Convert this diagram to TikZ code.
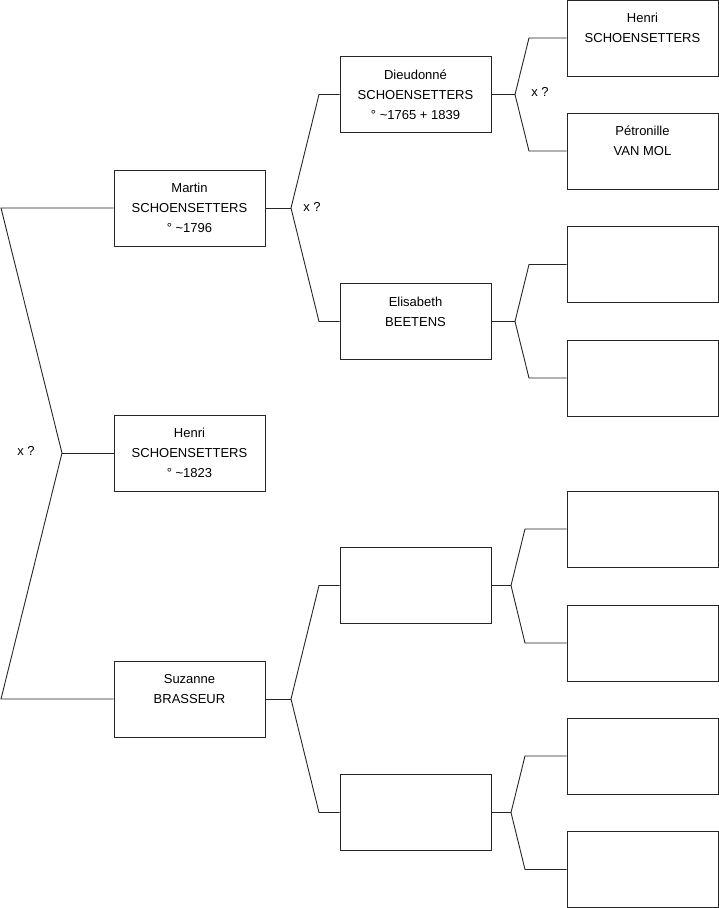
\documentclass[tikz,border=0pt]{standalone}
\usepackage{fontspec}
\setmainfont{Liberation Sans}
\usepackage{tikz}

\begin{document}
\begin{tikzpicture}[x=1pt, y=-1pt, line width=0.9pt,
    box/.style={draw=black!85, minimum width=151pt, minimum height=76pt,
                inner sep=0pt, align=center,
                font=\fontsize{13}{20}\selectfont},
    link/.style={draw=black!85},
    marriage/.style={font=\fontsize{13}{16}\selectfont}]
  \useasboundingbox (0,0) rectangle (719,908);

  % generation 1 and 2
  \node[box] (martin) at (189.5,208) {Martin\\SCHOENSETTERS\\° \textasciitilde1796};
  \node[box] (henri) at (189.5,453) {Henri\\SCHOENSETTERS\\° \textasciitilde1823};
  \node[box] (suzanne) at (189.5,699) {Suzanne\\BRASSEUR\\\mbox{}};

  % generation 3
  \node[box] (dieudonne) at (415.5,94.5) {Dieudonné\\SCHOENSETTERS\\° \textasciitilde1765 + 1839};
  \node[box] (elisabeth) at (415.5,321.5) {Elisabeth\\BEETENS\\\mbox{}};
  \node[box] (gp3) at (415.5,585.5) {};
  \node[box] (gp4) at (415.5,812.5) {};

  % generation 4
  \node[box] (henriS) at (642.5,38) {Henri\\SCHOENSETTERS\\\mbox{}};
  \node[box] (petronille) at (642.5,151) {Pétronille\\VAN MOL\\\mbox{}};
  \node[box] (ggp3) at (642.5,264.5) {};
  \node[box] (ggp4) at (642.5,378) {};
  \node[box] (ggp5) at (642.5,529) {};
  \node[box] (ggp6) at (642.5,643) {};
  \node[box] (ggp7) at (642.5,756) {};
  \node[box] (ggp8) at (642.5,869.5) {};

  % forks
  \coordinate (f1) at (62,453);
  \coordinate (f1a) at (1,208);
  \coordinate (f1b) at (1,699);
  \coordinate (f2) at (291,208);
  \coordinate (f3) at (291,699);
  \coordinate (f4) at (515,94.5);
  \coordinate (f5) at (515,321.5);
  \coordinate (f6) at (511,585.5);
  \coordinate (f7) at (511,812.5);

  \draw[link] (martin.west) -- (f1a) -- (f1) -- (f1b) -- (suzanne.west);
  \draw[link] (f1) -- (henri.west);

  \draw[link] (martin.east) -- (f2);
  \draw[link] (dieudonne.west) -- (319,94.5) -- (f2) -- (319,321.5) -- (elisabeth.west);
  \draw[link] (suzanne.east) -- (f3);
  \draw[link] (gp3.west) -- (319,585.5) -- (f3) -- (319,812.5) -- (gp4.west);

  \draw[link] (dieudonne.east) -- (f4);
  \draw[link] (henriS.west) -- (529,38) -- (f4) -- (529,151) -- (petronille.west);
  \draw[link] (elisabeth.east) -- (f5);
  \draw[link] (ggp3.west) -- (529,264.5) -- (f5) -- (529,378) -- (ggp4.west);
  \draw[link] (gp3.east) -- (f6);
  \draw[link] (ggp5.west) -- (525,529) -- (f6) -- (525,643) -- (ggp6.west);
  \draw[link] (gp4.east) -- (f7);
  \draw[link] (ggp7.west) -- (525,756) -- (f7) -- (525,869.5) -- (ggp8.west);

  % marriage marks
  \node[marriage] (m1) at (26,451) {x ?};
  \node[marriage] (m2) at (312,207) {x ?};
  \node[marriage] (m3) at (540,92) {x ?};
\end{tikzpicture}
\end{document}
